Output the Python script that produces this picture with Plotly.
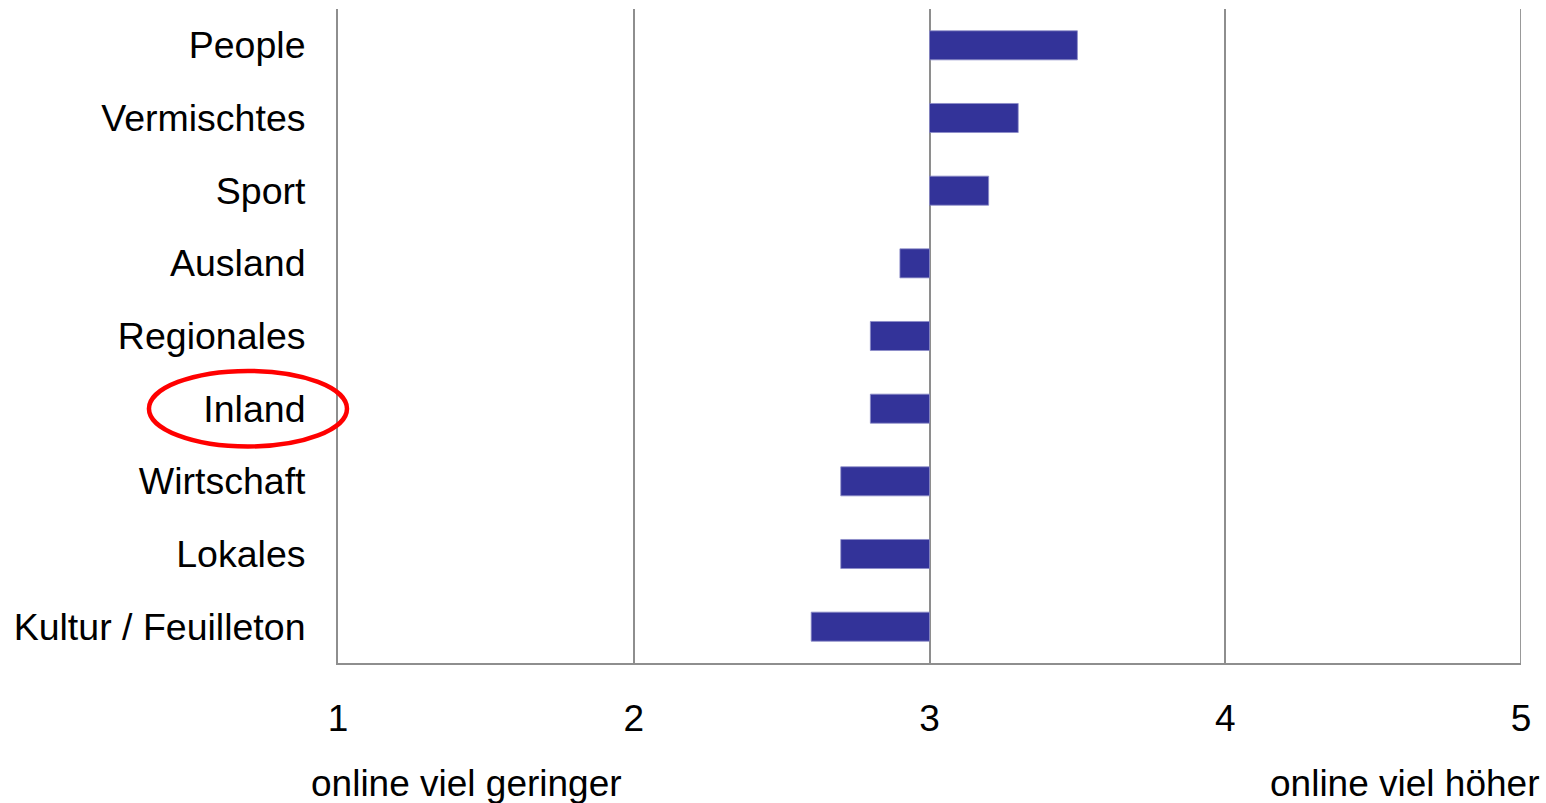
import plotly.graph_objects as go

# Ressorts, top to bottom
categories = ["People", "Vermischtes", "Sport", "Ausland", "Regionales",
              "Inland", "Wirtschaft", "Lokales", "Kultur / Feuilleton"]
# Mean rating on a 1-5 scale (3 = neutral)
values = [3.5, 3.3, 3.2, 2.9, 2.8, 2.8, 2.7, 2.7, 2.6]
tick_vals = [1, 2, 3, 4, 5]
tick_text = ["1", "2", "3", "4", "5"]
neutral = 3

FONT = "Liberation Sans, Arial, sans-serif"
GRID = "#8e8e8e"
FS = 37.5

fig = go.Figure(
    go.Bar(
        y=categories,
        x=[v - neutral for v in values],
        base=neutral,
        orientation="h",
        width=0.4,
        marker=dict(color="#333399", line=dict(color="#8c8cc8", width=0.8)),
        hoverinfo="skip",
    )
)

fig.update_layout(
    width=1546,
    height=803,
    margin=dict(l=338, r=25, t=9, b=140),
    paper_bgcolor="white",
    plot_bgcolor="white",
    showlegend=False,
    font=dict(family=FONT, size=FS, color="black"),
    xaxis=dict(
        range=[1, 5],
        tickvals=tick_vals,
        ticktext=tick_text,
        showgrid=True,
        gridcolor=GRID,
        gridwidth=1.8,
        zeroline=False,
        showline=True,
        linecolor=GRID,
        linewidth=2,
        ticks="",
        ticklabelstandoff=22,
        tickfont=dict(size=37),
    ),
    yaxis=dict(
        categoryorder="array",
        categoryarray=categories,
        autorange="reversed",
        showgrid=False,
        zeroline=False,
        showline=True,
        linecolor=GRID,
        linewidth=2,
        ticks="",
        ticklabelstandoff=23,
    ),
    shapes=[
        # right edge gridline at the scale maximum
        dict(
            type="line",
            xref="x", yref="paper",
            x0=tick_vals[-1], x1=tick_vals[-1], y0=0, y1=1,
            line=dict(color=GRID, width=1.8),
        ),
        # highlight around the "Inland" label
        dict(
            type="circle",
            xref="paper", yref="y",
            x0=-0.1598, x1=0.0076,
            y0=4.48, y1=5.52,
            line=dict(color="#ff0000", width=4.5),
        ),
    ],
    annotations=[
        dict(text="online viel geringer", xref="paper", yref="paper",
             x=0.1086, y=-0.185, xanchor="center", yanchor="middle",
             showarrow=False, font=dict(size=37)),
        dict(text="online viel höher", xref="paper", yref="paper",
             x=1.0169, y=-0.185, xanchor="right", yanchor="middle",
             showarrow=False, font=dict(size=37)),
    ],
)

fig.write_html("out.html")
